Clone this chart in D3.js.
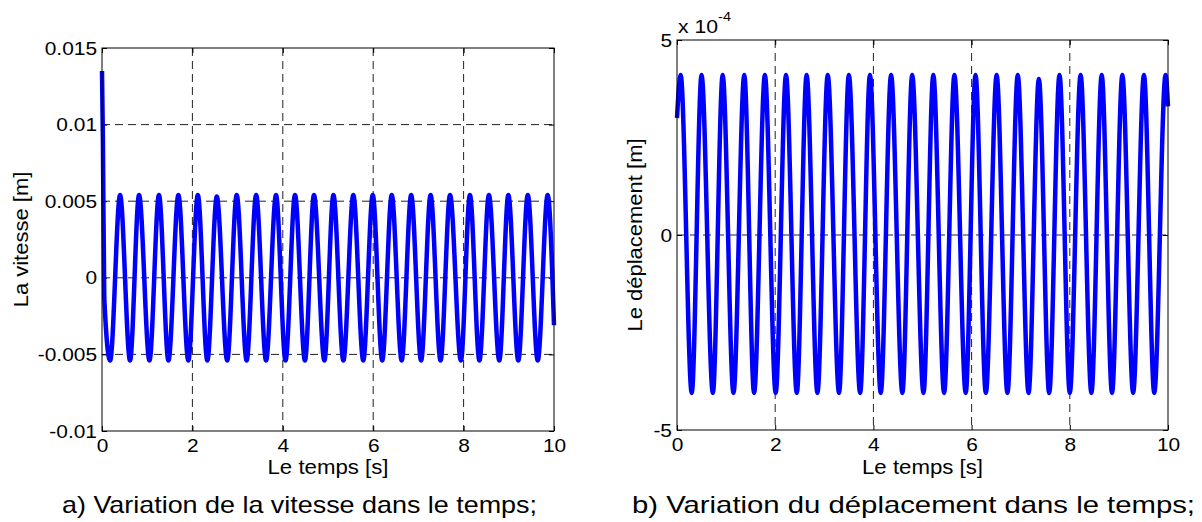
<!DOCTYPE html>
<html><head><meta charset="utf-8">
<script src="https://cdn.jsdelivr.net/npm/d3@7"></script>
<style>
body{margin:0;background:#fff}
svg{display:block}
text{font-family:"Liberation Sans",Arial,sans-serif;fill:#000}
</style>
</head><body>
<svg id="c" width="1202" height="522"></svg>
<script>
// ---- data ----
const timeTicks = [0, 2, 4, 6, 8, 10];
const velTicks = [-0.01, -0.005, 0, 0.005, 0.01, 0.015];
const velTickLabels = ["-0.01", "-0.005", "0", "0.005", "0.01", "0.015"];
const dispTicks = [-5e-4, 0, 5e-4];
const dispTickLabels = ["-5", "0", "5"];

// velocity: start transient, then alternating troughs / peaks
const velTime = [0, 0.02, 0.05,
  0.18, 0.40, 0.62, 0.82, 1.05, 1.26, 1.47, 1.69, 1.91, 2.12,
  2.33, 2.54, 2.77, 2.98, 3.20, 3.41, 3.63, 3.85, 4.06, 4.27,
  4.49, 4.69, 4.92, 5.12, 5.34, 5.56, 5.78, 5.99, 6.20, 6.41,
  6.63, 6.84, 7.06, 7.27, 7.49, 7.70, 7.94, 8.14, 8.35, 8.56,
  8.79, 8.99, 9.21, 9.42, 9.64, 9.86, 10.0];
const velValue = [0.0135, 0.0090, -0.0013,
  -0.0054, 0.0054, -0.0054, 0.0054, -0.0054, 0.0054, -0.0054, 0.0054, -0.0054, 0.0054,
  -0.0054, 0.0053, -0.0054, 0.0054, -0.0054, 0.0054, -0.0054, 0.0054, -0.0054, 0.0054,
  -0.0054, 0.0054, -0.0054, 0.0054, -0.0054, 0.0054, -0.0054, 0.0054, -0.0054, 0.0054,
  -0.0054, 0.0054, -0.0054, 0.0054, -0.0054, 0.0054, -0.0054, 0.0054, -0.0054, 0.0054,
  -0.0054, 0.0054, -0.0054, 0.0054, -0.0054, 0.0054, -0.0031];

// displacement: alternating peaks / troughs
const dispTime = [0,
  0.075, 0.30, 0.50, 0.73, 0.93, 1.15, 1.37, 1.57, 1.79, 2.01,
  2.22, 2.44, 2.64, 2.86, 3.07, 3.30, 3.50, 3.73, 3.93, 4.15,
  4.36, 4.59, 4.79, 5.02, 5.22, 5.44, 5.65, 5.88, 6.08, 6.29,
  6.51, 6.73, 6.94, 7.16, 7.37, 7.58, 7.79, 8.00, 8.22, 8.44,
  8.65, 8.86, 9.07, 9.29, 9.51, 9.72, 9.95, 10.0];
const dispValue = [3.0e-4,
  4.1e-4, -4.05e-4, 4.1e-4, -4.05e-4, 4.1e-4, -4.05e-4, 4.1e-4, -4.05e-4, 4.1e-4, -4.05e-4,
  4.1e-4, -4.05e-4, 4.1e-4, -4.05e-4, 4.1e-4, -4.05e-4, 4.1e-4, -4.05e-4, 4.1e-4, -4.05e-4,
  4.1e-4, -4.05e-4, 4.1e-4, -4.05e-4, 4.1e-4, -4.05e-4, 4.1e-4, -4.05e-4, 4.1e-4, -4.05e-4,
  4.1e-4, -4.05e-4, 4.1e-4, -4.05e-4, 4.0e-4, -4.05e-4, 4.1e-4, -4.05e-4, 4.1e-4, -4.05e-4,
  4.1e-4, -4.05e-4, 4.1e-4, -4.05e-4, 4.1e-4, -4.05e-4, 4.1e-4, 3.3e-4];

const svg = d3.select("#c");
svg.append("rect").attr("width", 1202).attr("height", 522).attr("fill", "#fff");

function stretch(sel, k) {
  sel.each(function () {
    const w = this.getComputedTextLength();
    d3.select(this).attr("textLength", w * k).attr("lengthAdjust", "spacingAndGlyphs");
  });
}

function panel(c) {
  const x = d3.scaleLinear().domain([0, 10]).range([c.L, c.R]);
  const y = d3.scaleLinear().domain(c.yDom).range([c.B, c.T]);
  const g = svg.append("g");

  // grid
  g.append("g").selectAll("line")
    .data(timeTicks.filter(v => v > 0 && v < 10)).join("line")
    .attr("x1", d => x(d)).attr("x2", d => x(d))
    .attr("y1", c.T).attr("y2", c.B)
    .attr("stroke", "#222").attr("stroke-width", 1).attr("stroke-dasharray", "8,5");
  g.append("g").selectAll("line")
    .data(c.yTicks.filter(v => v > c.yDom[0] && v < c.yDom[1])).join("line")
    .attr("y1", d => y(d)).attr("y2", d => y(d))
    .attr("x1", c.L).attr("x2", c.R)
    .attr("stroke", "#222").attr("stroke-width", 1).attr("stroke-dasharray", "8,5");

  // axes (MATLAB style: ticks inside)
  const fmtY = (d, i) => c.yLabels[i];
  const ax = [
    g.append("g").attr("transform", `translate(0,${c.B})`)
      .call(d3.axisBottom(x).tickValues(timeTicks).tickSize(-5).tickSizeOuter(0).tickPadding(8).tickFormat(d3.format("d"))),
    g.append("g").attr("transform", `translate(${c.L},0)`)
      .call(d3.axisLeft(y).tickValues(c.yTicks).tickSize(-5).tickSizeOuter(0).tickPadding(5).tickFormat(fmtY)),
    g.append("g").attr("transform", `translate(0,${c.T})`)
      .call(d3.axisTop(x).tickValues(timeTicks).tickSize(-5).tickSizeOuter(0).tickFormat("")),
    g.append("g").attr("transform", `translate(${c.R},0)`)
      .call(d3.axisRight(y).tickValues(c.yTicks).tickSize(-5).tickSizeOuter(0).tickFormat(""))
  ];
  ax.forEach(a => {
    a.attr("font-size", null).attr("font-family", null);
    a.select(".domain").remove();
    a.selectAll(".tick line").attr("stroke", "#000");
    a.selectAll(".tick text").style("font-size", "19px").call(stretch, 1.1);
  });

  // data line
  g.append("path")
    .datum(d3.zip(c.time, c.value))
    .attr("d", d3.line().x(d => x(d[0])).y(d => y(d[1])).curve(d3.curveMonotoneX))
    .attr("fill", "none").attr("stroke", "#0000ff").attr("stroke-width", 4.5)
    .attr("stroke-linejoin", "round").attr("stroke-linecap", "butt");

  // box
  g.append("rect").attr("x", c.L).attr("y", c.T).attr("width", c.R - c.L).attr("height", c.B - c.T)
    .attr("fill", "none").attr("stroke", "#000").attr("stroke-width", 1);

  // labels
  g.append("text").attr("x", (c.L + c.R) / 2).attr("y", 474).attr("text-anchor", "middle")
    .style("font-size", "20px").attr("textLength", 121).attr("lengthAdjust", "spacingAndGlyphs")
    .text("Le temps [s]");
  g.append("text").attr("transform", `translate(${c.ylx},${(c.T + c.B) / 2}) rotate(-90)`)
    .attr("text-anchor", "middle").style("font-size", "20px")
    .text(c.yTitle).call(stretch, 1.1);
  g.append("text").attr("x", c.capX).attr("y", 513)
    .style("font-size", "24px").attr("textLength", c.capW).attr("lengthAdjust", "spacingAndGlyphs")
    .text(c.caption);
  return { x, y, g };
}

panel({
  L: 102, R: 554, T: 48, B: 431, yDom: [-0.01, 0.015],
  yTicks: velTicks, yLabels: velTickLabels,
  time: velTime, value: velValue,
  yTitle: "La vitesse [m]", ylx: 28,
  caption: "a) Variation de la vitesse dans le temps;", capX: 62, capW: 475
});

const p2 = panel({
  L: 677, R: 1168, T: 40, B: 430, yDom: [-5e-4, 5e-4],
  yTicks: dispTicks, yLabels: dispTickLabels,
  time: dispTime, value: dispValue,
  yTitle: "Le déplacement [m]", ylx: 642,
  caption: "b) Variation du déplacement dans le temps;", capX: 632, capW: 563
});

// exponent label
const ex = p2.g.append("text").attr("x", 678).attr("y", 33).style("font-size", "19px");
ex.append("tspan").text("x 10");
ex.append("tspan").attr("dy", -12).style("font-size", "13px").text("-4");
ex.attr("textLength", 53).attr("lengthAdjust", "spacingAndGlyphs");
</script>
</body></html>
